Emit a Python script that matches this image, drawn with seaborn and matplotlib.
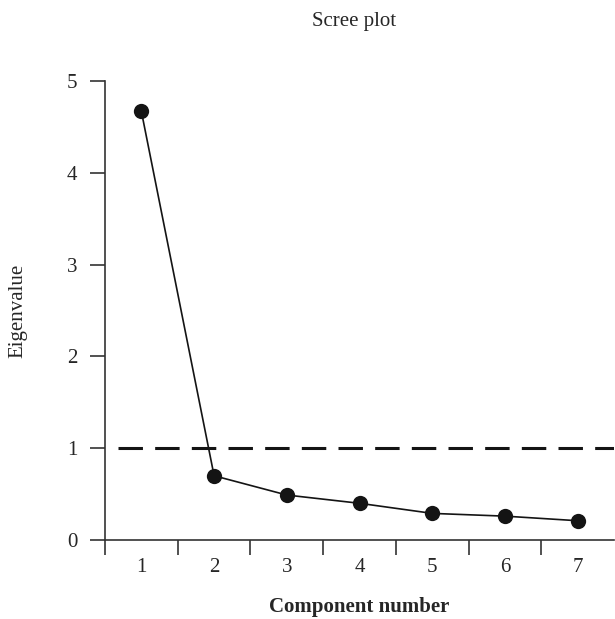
import numpy as np
import pandas as pd
import seaborn as sns
import matplotlib.pyplot as plt

# eigenvalues
components = [1, 2, 3, 4, 5, 6, 7]
eigenvalues = [4.67, 0.70, 0.49, 0.40, 0.29, 0.26, 0.21]
cutoff = 1.0

df = pd.DataFrame({"Component": components, "Eigenvalue": eigenvalues})

sns.set_theme(style="ticks")
plt.rcParams["font.family"] = ["Liberation Serif", "DejaVu Serif"]
plt.rcParams["font.size"] = 15

fig = plt.figure(figsize=(6.15, 6.19), dpi=100)
ax = fig.add_axes([0.1707, 0.1276, 0.828, 0.7415])

sns.lineplot(data=df, x="Component", y="Eigenvalue", ax=ax, color="#141414",
             linewidth=1.2, marker="o", markersize=11, markeredgewidth=0,
             markerfacecolor="#141414")

# Kaiser criterion line
ax.axhline(cutoff, xmin=0.025, xmax=1, color="#141414", linewidth=2.2,
           dashes=(8, 4))

ax.set_xlim(0.5, 7.5)
ax.set_ylim(0, 5)

# ticks sit between the components, labels under them
ax.set_xticks(np.arange(0.5, 7.0, 1.0))
ax.set_xticklabels([])
ax.set_xticks(components, minor=True)
ax.set_xticklabels([str(c) for c in components], minor=True)
ax.tick_params(axis="x", which="major", length=11, width=1.2, direction="out",
               color="#333333")
ax.tick_params(axis="x", which="minor", length=0, pad=13, labelsize=15)
ax.set_yticks([0, 1, 2, 3, 4, 5])
ax.tick_params(axis="y", length=11, width=1.2, pad=9, labelsize=15,
               color="#333333")

for side in ["top", "right"]:
    ax.spines[side].set_visible(False)
for side in ["left", "bottom"]:
    ax.spines[side].set_color("#333333")
    ax.spines[side].set_linewidth(1.2)

fig.text(0.575, 0.966, "Scree plot", ha="center", va="center", fontsize=15)
ax.set_xlabel("Component number", fontsize=15, fontweight="bold", labelpad=14)
ax.set_ylabel("Eigenvalue", fontsize=15, labelpad=28)

plt.savefig("out.png", dpi=100)
